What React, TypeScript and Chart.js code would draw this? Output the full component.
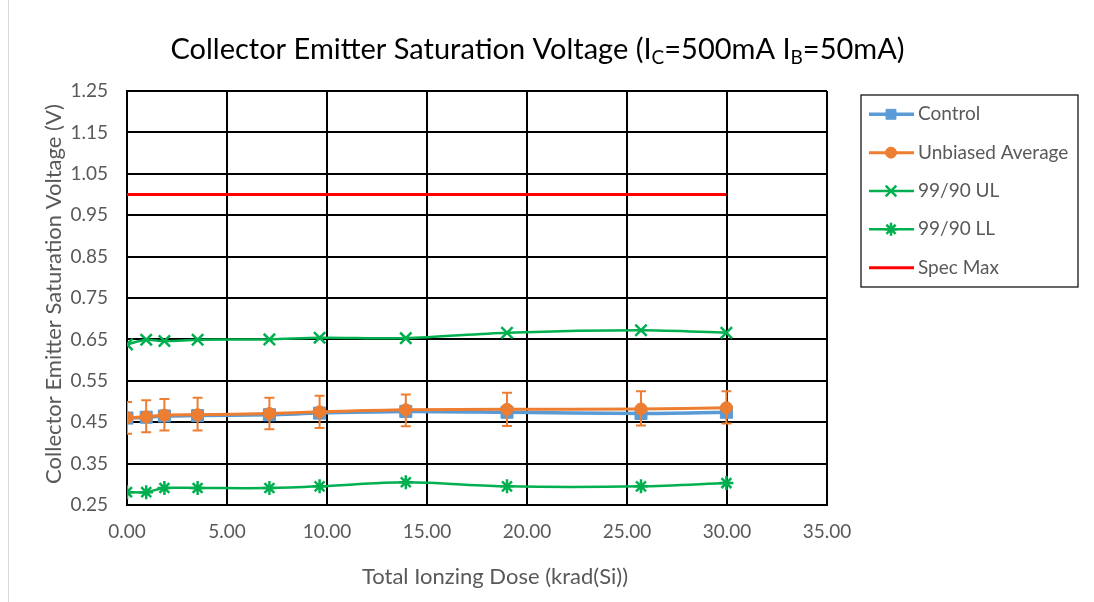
import React, { useEffect, useRef } from 'react';
import { Chart, registerables } from 'chart.js';
import { drawPoint } from 'chart.js/helpers';

Chart.register(...registerables);

// ---- data ----
const dose = [0, 0.96, 1.87, 3.53, 7.12, 9.63, 13.94, 19.0, 25.7, 29.97];
const control = [0.46, 0.462, 0.465, 0.466, 0.468, 0.472, 0.476, 0.474, 0.471, 0.474];
const unbiased = [0.461, 0.463, 0.467, 0.468, 0.471, 0.475, 0.48, 0.481, 0.482, 0.485];
const unbiasedHigh = [0.499, 0.503, 0.506, 0.509, 0.509, 0.514, 0.517, 0.521, 0.525, 0.525];
const unbiasedLow = [0.422, 0.426, 0.43, 0.43, 0.433, 0.436, 0.44, 0.441, 0.442, 0.447];
const ul9990 = [0.638, 0.649, 0.646, 0.649, 0.65, 0.654, 0.653, 0.666, 0.672, 0.666];
const ll9990 = [0.281, 0.281, 0.291, 0.291, 0.291, 0.295, 0.305, 0.295, 0.295, 0.303];
const specMax = [1.0, 1.0, 1.0, 1.0, 1.0, 1.0, 1.0, 1.0, 1.0, 1.0];

const xTicks = [0, 5, 10, 15, 20, 25, 30, 35];
const yTicks = [0.25, 0.35, 0.45, 0.55, 0.65, 0.75, 0.85, 0.95, 1.05, 1.15, 1.25];

const seriesLabels = ['Control', 'Unbiased Average', '99/90 UL', '99/90 LL', 'Spec Max'];

const titleParts = [
  { t: 'Collector Emitter Saturation Voltage (I', sub: false },
  { t: 'C', sub: true },
  { t: '=500mA I', sub: false },
  { t: 'B', sub: true },
  { t: '=50mA)', sub: false },
];
const xTitle = 'Total Ionzing Dose (krad(Si))';
const yTitle = 'Collector Emitter Saturation Voltage (V)';

// ---- styles ----
const FONT = 'Lato';
const BLUE = '#5B9BD5';
const ORANGE = '#ED7D31';
const GREEN = '#00B050';
const RED = '#FF0000';
const TEXT = '#595959';

const pts = (ys: number[]) => dose.map((x, i) => ({ x, y: ys[i] }));

const legendStyles = [
  { color: BLUE, width: 3.5, style: 'rect', radius: 7, fill: true },
  { color: ORANGE, width: 3, style: 'circle', radius: 5.5, fill: true },
  { color: GREEN, width: 2.5, style: 'crossRot', radius: 7.5, fill: false },
  { color: GREEN, width: 2.5, style: 'star', radius: 6.5, fill: false },
  { color: RED, width: 3, style: false, radius: 0, fill: false },
];

const errorBarPlugin = {
  id: 'errorBars',
  beforeDatasetDraw(chart: any, args: any) {
    if (chart.data.datasets[args.index].label !== 'Unbiased Average') return;
    const { ctx, chartArea } = chart;
    const x = chart.scales.x;
    const y = chart.scales.y;
    ctx.save();
    ctx.beginPath();
    ctx.rect(chartArea.left, chartArea.top - 20, chartArea.right - chartArea.left + 20, chartArea.bottom - chartArea.top + 40);
    ctx.clip();
    ctx.strokeStyle = ORANGE;
    ctx.lineWidth = 2;
    dose.forEach((d, i) => {
      const px = x.getPixelForValue(d);
      const yt = y.getPixelForValue(unbiasedHigh[i]);
      const yb = y.getPixelForValue(unbiasedLow[i]);
      ctx.beginPath();
      ctx.moveTo(px, yt);
      ctx.lineTo(px, yb);
      ctx.moveTo(px - 5, yt);
      ctx.lineTo(px + 5, yt);
      ctx.moveTo(px - 5, yb);
      ctx.lineTo(px + 5, yb);
      ctx.stroke();
    });
    ctx.restore();
  },
};

const decorPlugin = {
  id: 'decor',
  afterDraw(chart: any) {
    const ctx = chart.ctx as CanvasRenderingContext2D;
    ctx.save();
    // outer left frame line
    ctx.strokeStyle = '#d9d9d9';
    ctx.lineWidth = 1;
    ctx.beginPath();
    ctx.moveTo(8.5, 0);
    ctx.lineTo(8.5, 602);
    ctx.stroke();

    // title with subscripts
    const size = 29;
    const subSize = 19;
    let total = 0;
    const widths = titleParts.map((p) => {
      ctx.font = `${p.sub ? subSize : size}px ${FONT}`;
      const w = ctx.measureText(p.t).width;
      total += w;
      return w;
    });
    let cx = 537.5 - total / 2;
    const baseline = 59;
    ctx.fillStyle = '#000000';
    ctx.textBaseline = 'alphabetic';
    ctx.textAlign = 'left';
    titleParts.forEach((p, i) => {
      ctx.font = `${p.sub ? subSize : size}px ${FONT}`;
      ctx.fillText(p.t, cx, p.sub ? baseline + 5 : baseline);
      cx += widths[i];
    });

    // axis titles
    ctx.fillStyle = TEXT;
    ctx.font = `22px ${FONT}`;
    ctx.textAlign = 'center';
    ctx.textBaseline = 'middle';
    ctx.fillText(xTitle, 495, 577);
    ctx.save();
    ctx.translate(54, 294);
    ctx.rotate(-Math.PI / 2);
    ctx.fillText(yTitle, 0, 0);
    ctx.restore();

    // legend
    ctx.textAlign = 'left';
    ctx.strokeStyle = '#000000';
    ctx.lineWidth = 1.2;
    ctx.strokeRect(861, 95, 217, 192);
    seriesLabels.forEach((label, i) => {
      const st = legendStyles[i];
      const yy = 114.3 + i * 38.35;
      ctx.strokeStyle = st.color;
      ctx.lineWidth = st.width;
      ctx.beginPath();
      ctx.moveTo(869, yy);
      ctx.lineTo(914, yy);
      ctx.stroke();
      if (st.style) {
        ctx.fillStyle = st.color;
        ctx.strokeStyle = st.color;
        ctx.lineWidth = st.fill ? 1 : 2.5;
        drawPoint(ctx, { pointStyle: st.style as any, radius: st.radius, rotation: 0, borderWidth: ctx.lineWidth } as any, 891, yy);
      }
      ctx.fillStyle = TEXT;
      ctx.font = `19px ${FONT}`;
      ctx.textBaseline = 'middle';
      ctx.fillText(label, 918, yy);
    });
    ctx.restore();
  },
};

export default function App() {
  const ref = useRef<HTMLCanvasElement>(null);
  useEffect(() => {
    if (!ref.current) return;
    const tickFont = { family: FONT, size: 19 };
    const chart = new Chart(ref.current, {
      type: 'line',
      data: {
        datasets: [
          {
            label: seriesLabels[0], data: pts(control), borderColor: BLUE, backgroundColor: BLUE,
            borderWidth: 3.5, pointStyle: 'rect', pointRadius: 8.5, pointBorderWidth: 1, tension: 0.3, order: 2,
          },
          {
            label: seriesLabels[1], data: pts(unbiased), borderColor: ORANGE, backgroundColor: ORANGE,
            borderWidth: 3, pointStyle: 'circle', pointRadius: 6, pointBorderWidth: 1, tension: 0.3, order: 1,
          },
          {
            label: seriesLabels[2], data: pts(ul9990), borderColor: GREEN, backgroundColor: GREEN,
            borderWidth: 2.5, pointStyle: 'crossRot', pointRadius: 8, pointBorderWidth: 2.5, tension: 0.3, order: 3,
          },
          {
            label: seriesLabels[3], data: pts(ll9990), borderColor: GREEN, backgroundColor: GREEN,
            borderWidth: 2.5, pointStyle: 'star', pointRadius: 7, pointBorderWidth: 2.5, tension: 0.3, order: 4,
          },
          {
            label: seriesLabels[4], data: pts(specMax), borderColor: RED, backgroundColor: RED,
            borderWidth: 3, pointRadius: 0, tension: 0, order: 5,
          },
        ],
      },
      options: {
        animation: false,
        responsive: false,
        devicePixelRatio: 1,
        layout: { padding: { top: 91, right: 267, bottom: 0, left: 0 } },
        plugins: { legend: { display: false }, title: { display: false }, tooltip: { enabled: false } },
        scales: {
          x: {
            type: 'linear',
            min: 0,
            max: 35,
            afterBuildTicks: (s: any) => { s.ticks = xTicks.map((v) => ({ value: v })); },
            afterFit: (s: any) => { s.height = 97; },
            ticks: {
              callback: (v: any) => Number(v).toFixed(2), font: tickFont, color: TEXT,
              padding: 15, maxRotation: 0, autoSkip: false,
            },
            grid: { color: '#000000', lineWidth: 2, drawTicks: false },
            border: { color: '#000000', width: 2 },
            title: { display: false },
          },
          y: {
            type: 'linear',
            min: 0.25,
            max: 1.25,
            afterBuildTicks: (s: any) => { s.ticks = yTicks.map((v) => ({ value: v })); },
            afterFit: (s: any) => { s.width = 127; },
            ticks: { callback: (v: any) => Number(v).toFixed(2), font: tickFont, color: TEXT, padding: 19, autoSkip: false },
            grid: { color: '#000000', lineWidth: 2, drawTicks: false },
            border: { color: '#000000', width: 2 },
            title: { display: false },
          },
        },
      } as any,
      plugins: [errorBarPlugin, decorPlugin],
    });
    return () => chart.destroy();
  }, []);
  return (
    <div style={{ position: 'absolute', left: 0, top: 0, width: 1094, height: 602, background: '#ffffff' }}>
      <canvas ref={ref} width={1094} height={602} style={{ display: 'block' }} />
    </div>
  );
}
